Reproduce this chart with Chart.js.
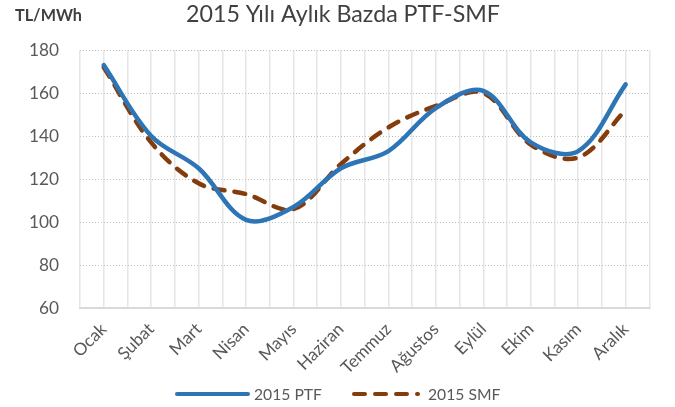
<!DOCTYPE html>
<html><head><meta charset="utf-8">
<script src="https://cdn.jsdelivr.net/npm/chart.js@4.4.1/dist/chart.umd.min.js"></script>
<style>html,body{margin:0;padding:0;background:#fff}#wrap{position:relative;width:675px;height:407px}</style>
</head><body>
<div id="wrap"><canvas id="c" width="675" height="407"></canvas></div>
<script>
const months = ["Ocak","Şubat","Mart","Nisan","Mayıs","Haziran","Temmuz","Ağustos","Eylül","Ekim","Kasım","Aralık"];
const ptf2015 = [173, 140, 125, 101, 107, 125, 133, 153, 161, 137, 133, 164];
const smf2015 = [172, 137, 118, 113, 106, 127, 144, 154, 160, 136, 130, 152];
const yTicks = [60, 80, 100, 120, 140, 160, 180];
const seriesNames = ["2015 PTF", "2015 SMF"];
const titleText = "2015 Yılı Aylık Bazda PTF-SMF";
const unitText = "TL/MWh";

const FAM = "Lato, 'Open Sans', sans-serif";
const mctx = document.createElement('canvas').getContext('2d');
function fit(text, target, weight) {
  mctx.font = (weight || 'normal') + ' 100px ' + FAM;
  return 100 * target / mctx.measureText(text).width;
}
const titleSize = fit(titleText, 314);
const unitSize = fit(unitText, 67, 'bold');
const legendSize = fit(seriesNames[0], 68);
const yTickSize = fit("180", 30);
const xTickSize = fit("Ağustos", 61);

const COLORS = ['#2E75B6', '#843C0C'];
const DASH = [11, 10];

const toPts = arr => arr.map((v, i) => ({x: i, y: v}));

const decoPlugin = {
  id: 'deco',
  afterDraw(chart) {
    const ctx = chart.ctx;
    ctx.save();
    ctx.textBaseline = 'middle';
    ctx.font = 'bold ' + unitSize + 'px ' + FAM;
    ctx.fillStyle = '#404040';
    ctx.textAlign = 'left';
    ctx.fillText(unitText, 15, 16);
    ctx.font = titleSize + 'px ' + FAM;
    ctx.fillStyle = '#404040';
    ctx.textAlign = 'center';
    ctx.fillText(titleText, 343, 15);
    const ly = 394;
    const items = [{x0: 177, x1: 248, tx: 254, dash: []}, {x0: 354, x1: 418, tx: 428, dash: DASH}];
    items.forEach((it, i) => {
      ctx.beginPath();
      ctx.setLineDash(it.dash);
      ctx.lineWidth = 4;
      ctx.lineCap = 'round';
      ctx.strokeStyle = COLORS[i];
      ctx.moveTo(it.x0, ly);
      ctx.lineTo(it.x1, ly);
      ctx.stroke();
      ctx.setLineDash([]);
      ctx.font = legendSize + 'px ' + FAM;
      ctx.fillStyle = '#595959';
      ctx.textAlign = 'left';
      ctx.fillText(seriesNames[i], it.tx, ly + 1);
    });
    ctx.restore();
  }
};

new Chart(document.getElementById('c'), {
  type: 'line',
  data: {
    datasets: [
      {label: seriesNames[0], data: toPts(ptf2015), borderColor: COLORS[0], backgroundColor: COLORS[0],
       borderWidth: 4.5, pointRadius: 0, tension: 0.35, borderCapStyle: 'round'},
      {label: seriesNames[1], data: toPts(smf2015), borderColor: COLORS[1], backgroundColor: COLORS[1],
       borderWidth: 4.5, pointRadius: 0, tension: 0.35, borderDash: DASH, borderCapStyle: 'round'}
    ]
  },
  plugins: [decoPlugin],
  options: {
    responsive: false,
    animation: false,
    layout: {padding: {left: 0, right: 12, top: 50, bottom: 0}},
    plugins: {
      title: {display: false},
      legend: {display: false},
      tooltip: {enabled: false}
    },
    scales: {
      x: {type: 'linear', min: -0.5, max: 11.5,
          afterBuildTicks: s => { const t = []; for (let v = -0.5; v <= 11.5; v += 0.5) t.push({value: v}); s.ticks = t; },
          afterFit: s => { s.height = 99; },
          ticks: {autoSkip: false, maxRotation: 45, minRotation: 45, color: '#595959', padding: 11,
                  font: {family: FAM, size: xTickSize},
                  callback: v => Number.isInteger(v) ? months[v] : ''},
          grid: {color: '#e6e6e6', lineWidth: 1.5, drawTicks: false},
          border: {display: true, color: '#d9d9d9', width: 2}},
      y: {min: 60, max: 180,
          afterBuildTicks: s => { s.ticks = yTicks.map(v => ({value: v})); },
          afterFit: s => { s.width = 80; },
          ticks: {color: '#595959', padding: 21, font: {family: FAM, size: yTickSize}},
          grid: {color: '#c0c0c0', lineWidth: 1, drawTicks: false},
          border: {display: false, dash: [1, 2]}}
    }
  }
});
</script>
</body></html>
